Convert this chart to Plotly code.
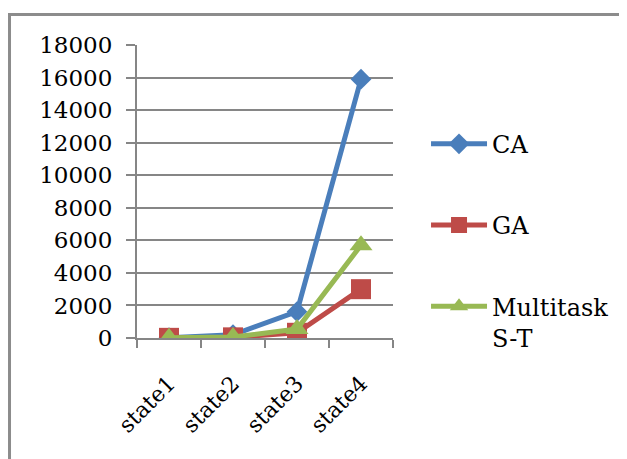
import plotly.graph_objects as go

categories = ["state1", "state2", "state3", "state4"]
ca_values = [20, 200, 1620, 15900]
ga_values = [10, 40, 320, 3000]
mt_values = [10, 60, 550, 5700]
y_ticks = [0, 2000, 4000, 6000, 8000, 10000, 12000, 14000, 16000, 18000]

FONT = "DejaVu Serif"
GRID = "#868686"

fig = go.Figure()
fig.add_trace(go.Scatter(
    x=categories, y=ca_values, name="CA", mode="lines+markers",
    line=dict(color="#4A7EBB", width=5),
    marker=dict(symbol="diamond", size=16, color="#4A7EBB"),
    legendgroup="a"))
fig.add_trace(go.Scatter(
    x=categories, y=ga_values, name="GA", mode="lines+markers",
    line=dict(color="#BE4B48", width=5),
    marker=dict(symbol="square", size=20, color="#BE4B48"),
    legendgroup="b"))
fig.add_trace(go.Scatter(
    x=categories, y=mt_values, name="Multitask<br>S-T", mode="lines+markers",
    line=dict(color="#98B954", width=5),
    marker=dict(symbol="triangle-up", size=20, color="#98B954"),
    legendgroup="c"))

fig.update_layout(
    width=627, height=459,
    margin=dict(l=129, r=242, t=37, b=129),
    paper_bgcolor="white", plot_bgcolor="white",
    font=dict(family=FONT, size=23, color="black"),
    showlegend=True,
    legend=dict(x=1.129, xanchor="left", y=0.738, yanchor="top",
                tracegroupgap=47, valign="top", itemwidth=56,
                font=dict(family=FONT, size=24, color="black"),
                bgcolor="rgba(0,0,0,0)"),
    xaxis=dict(type="category", categoryorder="array", categoryarray=categories,
               range=[-0.5, 3.5], showgrid=False, showline=True, linecolor=GRID,
               linewidth=2, ticks="outside", tickson="boundaries", ticklen=8,
               tickcolor=GRID, tickwidth=2, tickangle=-45, ticklabelstandoff=22,
               tickfont=dict(family=FONT, size=22, color="black"), zeroline=False),
    yaxis=dict(range=[0, 18000], tickvals=y_ticks, tickformat="d", showgrid=True,
               gridcolor=GRID, gridwidth=2, showline=True, linecolor=GRID, linewidth=2,
               ticks="outside", ticklen=9, tickcolor=GRID, tickwidth=2,
               ticklabelstandoff=9, zeroline=False,
               tickfont=dict(family=FONT, size=23, color="black")),
    shapes=[
        dict(type="line", xref="paper", yref="paper", x0=-0.498, x1=-0.498,
             y0=1.104, y1=-0.6, line=dict(color="#8C8C8C", width=3)),
        dict(type="line", xref="paper", yref="paper", x0=-0.504, x1=2.2,
             y0=1.104, y1=1.104, line=dict(color="#8C8C8C", width=3)),
    ],
)

fig.write_html("out.html")
